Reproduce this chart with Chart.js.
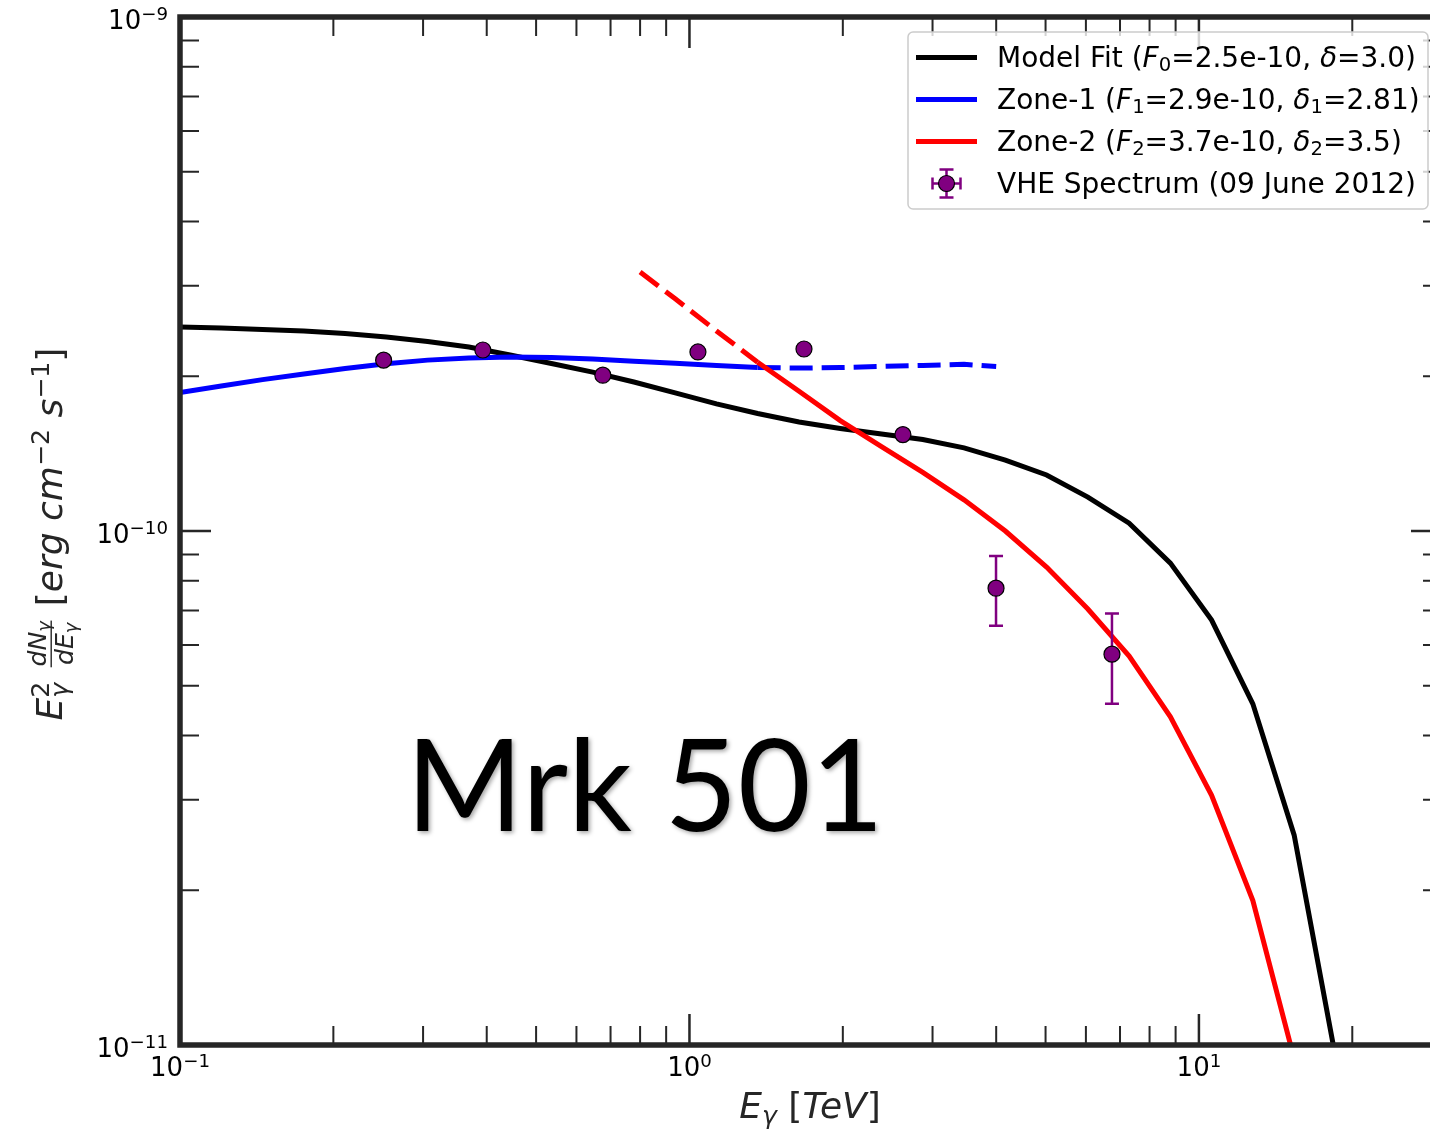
<!DOCTYPE html>
<html>
<head>
<meta charset="utf-8">
<script src="https://cdn.jsdelivr.net/npm/chart.js@4.4.1/dist/chart.umd.min.js"></script>
<style>
  html, body { margin: 0; padding: 0; background: #fff; overflow: hidden; }
  #wrap { width: 1460px; height: 1132px; }
</style>
</head>
<body>
<div id="wrap"><canvas id="c" width="1460" height="1132"></canvas></div>
<script>
// model fit (black)
const modelEnergy = [0.1, 0.1205, 0.1452, 0.175, 0.2109, 0.2541, 0.3062, 0.369, 0.4446, 0.5358, 0.6457, 0.778, 0.9376, 1.13, 1.361, 1.641, 1.977, 2.382, 2.871, 3.459, 4.169, 5.023, 6.053, 7.295, 8.79, 10.59, 12.76, 15.38, 18.53];
const modelFlux = [2.493e-10, 2.482e-10, 2.466e-10, 2.449e-10, 2.422e-10, 2.384e-10, 2.337e-10, 2.280e-10, 2.200e-10, 2.118e-10, 2.038e-10, 1.949e-10, 1.856e-10, 1.767e-10, 1.693e-10, 1.629e-10, 1.583e-10, 1.544e-10, 1.507e-10, 1.451e-10, 1.374e-10, 1.285e-10, 1.164e-10, 1.036e-10, 8.66e-11, 6.71e-11, 4.61e-11, 2.56e-11, 9.5e-12];

// zone-1 (blue), dashed above 1.36 TeV
const zone1Energy = [0.1, 0.1205, 0.1452, 0.175, 0.2109, 0.2541, 0.3062, 0.369, 0.4446, 0.5358, 0.6457, 0.778, 0.9376, 1.13, 1.361, 1.641, 1.977, 2.382, 2.871, 3.459, 4.0];
const zone1Flux = [1.86e-10, 1.915e-10, 1.97e-10, 2.02e-10, 2.07e-10, 2.115e-10, 2.15e-10, 2.17e-10, 2.18e-10, 2.175e-10, 2.16e-10, 2.14e-10, 2.12e-10, 2.10e-10, 2.08e-10, 2.075e-10, 2.08e-10, 2.09e-10, 2.10e-10, 2.11e-10, 2.09e-10];

// zone-2 (red), dashed below 1.36 TeV
const zone2Energy = [0.8, 0.9376, 1.13, 1.361, 1.641, 1.977, 2.382, 2.871, 3.459, 4.169, 5.023, 6.053, 7.295, 8.79, 10.59, 12.76, 15.38];
const zone2Flux = [3.19e-10, 2.83e-10, 2.45e-10, 2.13e-10, 1.87e-10, 1.64e-10, 1.46e-10, 1.30e-10, 1.15e-10, 1.00e-10, 8.51e-11, 7.05e-11, 5.71e-11, 4.35e-11, 3.06e-11, 1.91e-11, 9.4e-12];

const splitEnergy = 1.361;

// VHE spectrum (09 June 2012)
const vheEnergy = [0.251, 0.393, 0.676, 1.039, 1.678, 2.624, 3.997, 6.75];
const vheFlux = [2.15e-10, 2.25e-10, 2.01e-10, 2.23e-10, 2.26e-10, 1.54e-10, 7.74e-11, 5.76e-11];
const vheErr = [3e-12, 3e-12, 3e-12, 3e-12, 3e-12, 2e-12, 1.2e-11, 1.15e-11];

// ticks
const xMajorTicks = [0.1, 1, 10];
const xTickExp = ['\u22121', '0', '1'];
const xMinorTicks = [0.2, 0.3, 0.4, 0.5, 0.6, 0.7, 0.8, 0.9, 2, 3, 4, 5, 6, 7, 8, 9, 20, 30];
const yMajorTicks = [1e-11, 1e-10, 1e-9];
const yTickExp = ['\u221211', '\u221210', '\u22129'];
const yMinorTicks = [2e-11, 3e-11, 4e-11, 5e-11, 6e-11, 7e-11, 8e-11, 9e-11, 2e-10, 3e-10, 4e-10, 5e-10, 6e-10, 7e-10, 8e-10, 9e-10];

const pts = (xs, ys) => xs.map((x, i) => ({ x: x, y: ys[i] }));

// --- small mathtext-ish helper ---
function setFont(ctx, size, it) {
  ctx.font = (it ? 'oblique ' : '') + size + 'px "DejaVu Sans"';
}
function layoutRich(ctx, parts, size) {
  let x = 0, hold = 0;
  const items = [];
  for (const p of parts) {
    if (p.frac) {
      const fs = size * 0.7;
      const num = layoutRich(ctx, p.frac[0], fs);
      const den = layoutRich(ctx, p.frac[1], fs);
      const w = Math.max(num.width, den.width) + size * 0.2;
      items.push({ frac: true, x: x, w: w, num: num, den: den, size: size });
      x += w;
      continue;
    }
    const sz = p.s ? size * 0.7 : size;
    setFont(ctx, sz, p.it);
    const w = ctx.measureText(p.t).width;
    const dy = p.s === 'sup' ? -0.36 * size : (p.s === 'sub' ? 0.17 * size : 0);
    items.push({ t: p.t, x: x, dy: dy, sz: sz, it: p.it });
    if (p.hold) { hold = w; } else { x += Math.max(w, hold); hold = 0; }
  }
  return { items: items, width: x };
}
function drawLayout(ctx, lay, x0, y0) {
  for (const it of lay.items) {
    if (it.frac) {
      const bar = y0 - 0.3 * it.size;
      const cx = x0 + it.x + it.w / 2;
      ctx.fillRect(x0 + it.x + it.size * 0.08, bar - 0.7, it.w - it.size * 0.16, 1.4);
      drawLayout(ctx, it.num, cx - it.num.width / 2, bar - 0.14 * it.size);
      drawLayout(ctx, it.den, cx - it.den.width / 2, bar + 0.6 * it.size);
      continue;
    }
    setFont(ctx, it.sz, it.it);
    ctx.fillText(it.t, x0 + it.x, y0 + it.dy);
  }
}
function drawRich(ctx, parts, x, y, size, align) {
  ctx.textAlign = 'left';
  ctx.textBaseline = 'alphabetic';
  const lay = layoutRich(ctx, parts, size);
  let x0 = x;
  if (align === 'center') x0 = x - lay.width / 2;
  if (align === 'right') x0 = x - lay.width;
  drawLayout(ctx, lay, x0, y);
  return lay.width;
}

// error bars, drawn just before the VHE markers
const errorBars = {
  id: 'errorBars',
  beforeDatasetDraw(chart, args) {
    if (args.index !== 0) return;
    const { ctx, scales: { x, y } } = chart;
    ctx.save();
    ctx.strokeStyle = '#800080';
    ctx.lineWidth = 2.5;
    vheEnergy.forEach((e, i) => {
      const px = x.getPixelForValue(e);
      const top = y.getPixelForValue(vheFlux[i] + vheErr[i]);
      const bot = y.getPixelForValue(vheFlux[i] - vheErr[i]);
      ctx.beginPath();
      ctx.moveTo(px, top); ctx.lineTo(px, bot);
      ctx.moveTo(px - 7, top); ctx.lineTo(px + 7, top);
      ctx.moveTo(px - 7, bot); ctx.lineTo(px + 7, bot);
      ctx.stroke();
    });
    ctx.restore();
  }
};

// frame, inward ticks, tick labels, axis titles, annotation, legend
const decorations = {
  id: 'decorations',
  afterDatasetsDraw(chart) {
    const { ctx, chartArea: a, scales: { x, y } } = chart;
    ctx.save();
    ctx.strokeStyle = '#262626';
    ctx.fillStyle = '#000';

    // Mrk 501 label
    ctx.save();
    ctx.font = '128px Lato';
    ctx.textBaseline = 'alphabetic';
    ctx.textAlign = 'left';
    const mw = ctx.measureText('Mrk 501').width;
    ctx.translate(406, 831);
    ctx.scale(478 / mw, 1);
    ctx.shadowColor = 'rgba(0,0,0,0.35)';
    ctx.shadowBlur = 4;
    ctx.shadowOffsetX = 2;
    ctx.shadowOffsetY = 2;
    ctx.fillText('Mrk 501', 0, 0);
    ctx.restore();

    // ticks
    const xt = (v, len) => {
      const px = x.getPixelForValue(v);
      ctx.beginPath();
      ctx.moveTo(px, a.bottom); ctx.lineTo(px, a.bottom - len);
      ctx.moveTo(px, a.top); ctx.lineTo(px, a.top + len);
      ctx.stroke();
    };
    const yt = (v, len) => {
      const py = y.getPixelForValue(v);
      ctx.beginPath();
      ctx.moveTo(a.left, py); ctx.lineTo(a.left + len, py);
      ctx.moveTo(a.right, py); ctx.lineTo(a.right - len, py);
      ctx.stroke();
    };
    ctx.lineWidth = 2;
    xMinorTicks.forEach(v => xt(v, 19));
    yMinorTicks.forEach(v => yt(v, 19));
    ctx.lineWidth = 2.5;
    xMajorTicks.forEach(v => xt(v, 31));
    yMajorTicks.forEach(v => yt(v, 31));

    // spines
    ctx.lineWidth = 5.5;
    ctx.lineJoin = 'miter';
    ctx.strokeRect(a.left, a.top, a.right - a.left, a.bottom - a.top);

    // tick labels
    ctx.fillStyle = '#000';
    xMajorTicks.forEach((v, i) => {
      drawRich(ctx, [{ t: '10' }, { t: xTickExp[i], s: 'sup' }], x.getPixelForValue(v), a.bottom + 31, 26, 'center');
    });
    yMajorTicks.forEach((v, i) => {
      drawRich(ctx, [{ t: '10' }, { t: yTickExp[i], s: 'sup' }], 168, y.getPixelForValue(v) + 12, 26, 'right');
    });

    // axis titles
    ctx.fillStyle = '#262626';
    drawRich(ctx, [
      { t: 'E', it: true }, { t: '\u03b3', it: true, s: 'sub' }, { t: ' [' },
      { t: 'TeV', it: true }, { t: ']' }
    ], 810, 1118, 36, 'center');

    ctx.save();
    ctx.translate(62, 534);
    ctx.rotate(-Math.PI / 2);
    drawRich(ctx, [
      { t: 'E', it: true }, { t: '2', s: 'sup', hold: true }, { t: '\u03b3', it: true, s: 'sub' },
      { t: ' ' },
      { frac: [
        [{ t: 'dN', it: true }, { t: '\u03b3', it: true, s: 'sub' }],
        [{ t: 'dE', it: true }, { t: '\u03b3', it: true, s: 'sub' }]
      ] },
      { t: ' [' }, { t: 'erg', it: true }, { t: ' ' }, { t: 'cm', it: true }, { t: '\u22122', s: 'sup' },
      { t: ' ' }, { t: 's', it: true }, { t: '\u22121', s: 'sup' }, { t: ']' }
    ], 0, 0, 36, 'center');
    ctx.restore();

    ctx.restore();
  },
  afterDraw(chart) {
    const { ctx } = chart;
    ctx.save();
    // legend box
    ctx.beginPath();
    ctx.roundRect(908, 32, 520, 177, 5);
    ctx.fillStyle = 'rgba(255,255,255,0.8)';
    ctx.fill();
    ctx.strokeStyle = '#cccccc';
    ctx.lineWidth = 1.5;
    ctx.stroke();

    const rows = [57.5, 99.5, 141.5, 183.5];
    const colors = ['#000000', '#0000ff', '#ff0000'];
    ctx.lineWidth = 5;
    colors.forEach((c, i) => {
      ctx.strokeStyle = c;
      ctx.beginPath();
      ctx.moveTo(916, rows[i]); ctx.lineTo(977, rows[i]);
      ctx.stroke();
    });
    // marker with error bars
    const mx = 946.5, my = rows[3];
    ctx.strokeStyle = '#800080';
    ctx.lineWidth = 2.5;
    ctx.beginPath();
    ctx.moveTo(mx - 14, my); ctx.lineTo(mx + 14, my);
    ctx.moveTo(mx - 14, my - 6); ctx.lineTo(mx - 14, my + 6);
    ctx.moveTo(mx + 14, my - 6); ctx.lineTo(mx + 14, my + 6);
    ctx.moveTo(mx, my - 14); ctx.lineTo(mx, my + 14);
    ctx.moveTo(mx - 7, my - 14); ctx.lineTo(mx + 7, my - 14);
    ctx.moveTo(mx - 7, my + 14); ctx.lineTo(mx + 7, my + 14);
    ctx.stroke();
    ctx.beginPath();
    ctx.arc(mx, my, 8, 0, Math.PI * 2);
    ctx.fillStyle = '#800080';
    ctx.fill();
    ctx.strokeStyle = '#000';
    ctx.lineWidth = 1.2;
    ctx.stroke();

    ctx.fillStyle = '#000';
    const fs = 28, tx = 997;
    drawRich(ctx, [{ t: 'Model Fit (' }, { t: 'F', it: true }, { t: '0', s: 'sub' }, { t: '=2.5e-10, ' }, { t: '\u03b4', it: true }, { t: '=3.0)' }], tx, rows[0] + 9, fs, 'left');
    drawRich(ctx, [{ t: 'Zone-1 (' }, { t: 'F', it: true }, { t: '1', s: 'sub' }, { t: '=2.9e-10, ' }, { t: '\u03b4', it: true }, { t: '1', s: 'sub' }, { t: '=2.81)' }], tx, rows[1] + 9, fs, 'left');
    drawRich(ctx, [{ t: 'Zone-2 (' }, { t: 'F', it: true }, { t: '2', s: 'sub' }, { t: '=3.7e-10, ' }, { t: '\u03b4', it: true }, { t: '2', s: 'sub' }, { t: '=3.5)' }], tx, rows[2] + 9, fs, 'left');
    drawRich(ctx, [{ t: 'VHE Spectrum (09 June 2012)' }], tx, rows[3] + 9, fs, 'left');
    ctx.restore();
  }
};

new Chart(document.getElementById('c'), {
  type: 'scatter',
  data: {
    datasets: [
      {
        label: 'VHE Spectrum (09 June 2012)',
        data: pts(vheEnergy, vheFlux),
        pointRadius: 8,
        pointBackgroundColor: '#800080',
        pointBorderColor: '#000000',
        pointBorderWidth: 1.2,
        showLine: false,
        order: 0
      },
      {
        label: 'Zone-2',
        data: pts(zone2Energy, zone2Flux),
        showLine: true,
        borderColor: '#ff0000',
        borderWidth: 5,
        borderCapStyle: 'butt',
        pointRadius: 0,
        tension: 0,
        order: 1,
        segment: { borderDash: c => c.p1.parsed.x <= splitEnergy ? [23, 9] : undefined }
      },
      {
        label: 'Zone-1',
        data: pts(zone1Energy, zone1Flux),
        showLine: true,
        borderColor: '#0000ff',
        borderWidth: 5,
        borderCapStyle: 'butt',
        pointRadius: 0,
        tension: 0,
        order: 2,
        segment: { borderDash: c => c.p0.parsed.x >= splitEnergy ? [23, 9] : undefined }
      },
      {
        label: 'Model Fit',
        data: pts(modelEnergy, modelFlux),
        showLine: true,
        borderColor: '#000000',
        borderWidth: 5,
        pointRadius: 0,
        tension: 0,
        order: 3
      }
    ]
  },
  options: {
    responsive: false,
    animation: false,
    devicePixelRatio: 1,
    events: [],
    layout: { padding: { left: 180, right: 18, top: 17, bottom: 87 } },
    scales: {
      x: { type: 'logarithmic', min: 0.1, max: 30, display: false },
      y: { type: 'logarithmic', min: 1e-11, max: 1e-9, display: false }
    },
    plugins: { legend: { display: false }, tooltip: { enabled: false } }
  },
  plugins: [errorBars, decorations]
});
</script>
</body>
</html>
